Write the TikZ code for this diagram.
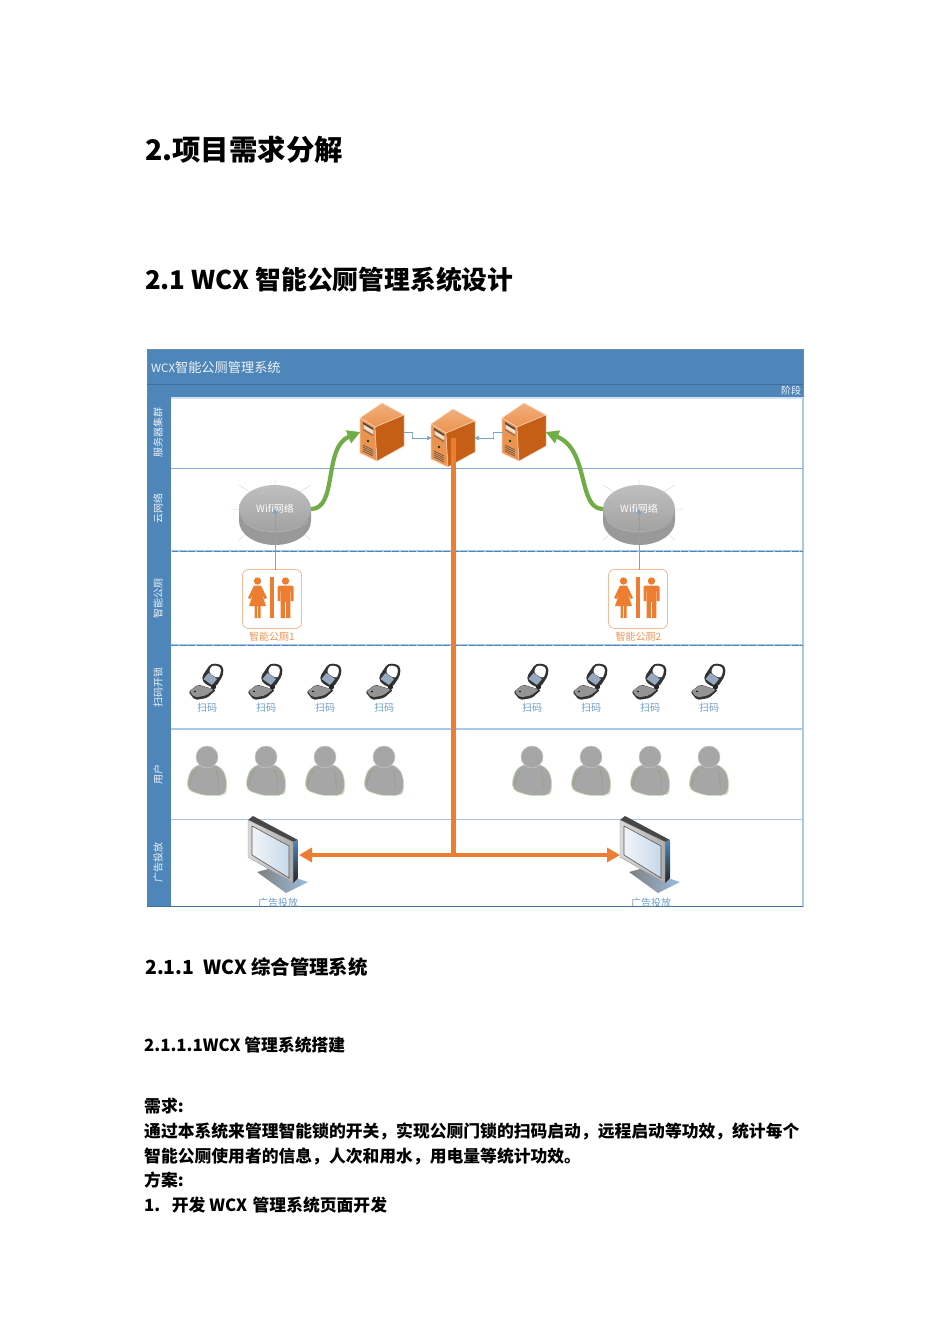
\documentclass[tikz,border=0pt]{standalone}
\usepackage{fontspec}
\setmainfont{Noto Sans CJK SC}
\usepackage{xcolor}
\usetikzlibrary{arrows.meta,shapes.geometric}
\definecolor{lanebl}{HTML}{4F86B9}
\definecolor{lanedk}{HTML}{3E6F9E}
\definecolor{rulebl}{HTML}{A9C7E6}
\definecolor{rowbl}{HTML}{86A8D8}
\definecolor{txtbl}{HTML}{6F9CC8}
\definecolor{wcor}{HTML}{ED7D31}
\definecolor{srvlt}{HTML}{EC9350}
\definecolor{srvdk}{HTML}{C55F17}
\definecolor{grnln}{HTML}{70AD47}
\newcommand{\fsz}[1]{\fontsize{#1}{#1}\selectfont}
\tikzset{
  server/.pic={
    \path[draw=white!65!srvlt,line width=.6pt,top color=srvlt!75!white,bottom color=srvlt]
      (0,-29)--(-22,-14)--(-7,-5)--(22,-17)--cycle;
    \fill[srvlt,draw=white!60!srvlt,line width=.6pt] (-22,-14)--(-7,-5)--(-5,29)--(-22,21)--cycle;
    \fill[srvdk,draw=white!60!srvlt,line width=.5pt] (-7,-5)--(22,-17)--(22,14)--(-5,29)--cycle;
    \fill[black!70] (-19,-10)--(-9,-4)--(-9,-2)--(-19,-8)--cycle;
    \fill[white!70!srvlt] (-18,-7)--(-9,-1.5)--(-9,2)--(-18,-3.5)--cycle;
    \fill[black!60] (-19,-3)--(-9,3)--(-9,4)--(-19,-2)--cycle;
    \fill[green!30!black] (-14,9) circle (1.3);
    \foreach \k in {0,2,4,6}{
      \draw[black!70,line width=.6pt] (-19,13+\k)--(-9,18+\k);
    }
  },
  wcfigs/.pic={
    \fill[wcor] (-1.7,-22) rectangle (1.7,19);
    % woman
    \fill[wcor] (-14.5,-18) circle (3.7);
    \fill[wcor] (-18,-13.5)--(-11,-13.5)--(-5,-1)--(-7.5,0)--(-10.5,-6)--(-6,7)--(-11.5,7)--(-11.5,19)--(-14,19)
      --(-14,7)--(-15,7)--(-15,19)--(-17.5,19)--(-17.5,7)--(-23,7)--(-18.5,-6)--(-21.5,0)--(-24,-1)--cycle;
    % man
    \fill[wcor] (13.5,-18) circle (3.7);
    \fill[wcor] (7,-13.5)--(20,-13.5)--(21.5,-12)--(21.5,2)--(18.8,2)--(18.8,-8)--(18.3,-8)--(18.3,19)--(14.2,19)--(14.2,3)
      --(12.8,3)--(12.8,19)--(8.7,19)--(8.7,-8)--(8.2,-8)--(8.2,2)--(5.5,2)--(5.5,-12)--cycle;
  },
  phone/.pic={
    \fill[black!80,rounded corners=2pt] (-18.5,10)--(-9,2.5)--(9,8)--(0,16)--(-12,18)--cycle;
    \fill[black!42,rounded corners=2pt] (-17.5,9.5)--(-9,3)--(7,7.5)--(-1,13.5)--(-12,15.5)--cycle;
    \fill[black!80,rounded corners=4pt] (-6,-4)--(4,-19)--(16,-17)--(16.5,-7)--(8,6)--(-1,3)--cycle;
    \fill[white!45!lanebl!70!gray] (-3.5,-3)--(1.5,-9)--(10,-3)--(5,3)--cycle;
    \fill[white,rounded corners=3pt] (1.5,-9.5)--(5,-17)--(14,-15)--(13.5,-7)--(10.5,-3.5)--cycle;
    \fill[black!85] (6.5,5) circle (2.6);
    \fill[black] (-12,9.5) circle (.8);
  },
  person/.pic={
    \fill[black!35,draw=grnln!40,line width=.6pt,rounded corners=5pt]
      (-6,-6)--(-15,-2)--(-19.5,9)--(-19.5,20)--(-3,25.5)--(17,25.5)--(19.5,20)--(19.5,8)--(15,-2)--(6,-6)--cycle;
    \fill[black!35,draw=black!22,line width=.5pt] (0,-13) circle (11);
    \draw[grnln!70!black!70,line width=.4pt] (-17,15) to[bend left=15] (-11,0);
    \draw[grnln!70!black!70,line width=.4pt] (11,19) to[bend right=10] (9,0);
  },
  monitor/.pic={
    \path[left color=black!50,right color=rulebl!85!lanebl] (-21,17)--(-10,14)--(30,27)--(8,38)--cycle;
    \fill[black!72] (-30,-35)--(-25,-39)--(20,-15)--(15,-13)--cycle;
    \path[top color=lanebl,bottom color=black!85] (15,-13)--(20,-15)--(20,23)--(15,28)--cycle;
    \path[draw=black!40,line width=.4pt,left color=black!15,right color=black!32]
      (-30,-35)--(15,-13)--(15,28)--(-30,2)--cycle;
    \path[draw=black!65,line width=.6pt,left color=white!92!lanebl,right color=white!68!lanebl]
      (-26,-29)--(11,-9)--(11,23)--(-26,0)--cycle;
  },
}
\begin{document}
\begin{tikzpicture}[x=1pt,y=-1pt,
  iconbox/.style 2 args={inner sep=0pt,outer sep=0pt,minimum width=#1,minimum height=#2},
  wifitop/.style={ellipse,inner sep=0pt,outer sep=0pt,minimum width=72pt,minimum height=48pt,
    top color=black!25,bottom color=black!37,
    text=white,font=\fsz{10}},
  wcbox/.style={iconbox={59pt}{59pt},rounded corners=6pt,draw=wcor!80,line width=.5pt,fill=white},
  wclab/.style={text=wcor!85,font=\fsz{10},inner sep=0pt},
  blab/.style={text=txtbl,font=\fsz{10},inner sep=0pt},
  lanelab/.style={rotate=90,text=white!90!lanebl,font=\fsz{10},inner sep=0pt},
  htext/.style={anchor=west,inner sep=0pt,font=\fsz{#1}\bfseries},
  rowline/.style={rowbl,line width=.9pt},
  rowdash/.style={lanebl,line width=.9pt,dash pattern=on 7pt off 1.5pt},
  thinarr/.style={-{Triangle[length=4.5pt,width=4.5pt]},lanebl!75!white,line width=.6pt},
  grnarr/.style={-{Triangle[length=13pt,width=13pt]},grnln,line width=4.2pt},
  orarr/.style={wcor,line width=4.6pt}]
  \useasboundingbox (0,0) rectangle (950,1344);

  % page headings
  \node[htext=28.4] (title) at (145,150) {2.项目需求分解};
  \node[htext=25.8] (sect) at (145,280) {2.1 WCX 智能公厕管理系统设计};
  \node[htext=19.4] (subsect) at (145,967) {2.1.1\ \ WCX 综合管理系统};
  \node[htext=16.8] (subsub) at (144,1045) {2.1.1.1WCX 管理系统搭建};
  \node[htext=16.8] (bodya) at (144,1106) {需求:};
  \node[htext=16.8] (bodyb) at (144,1131) {通过本系统来管理智能锁的开关，实现公厕门锁的扫码启动，远程启动等功效，统计每个};
  \node[htext=16.8] (bodyc) at (144,1156) {智能公厕使用者的信息，人次和用水，用电量等统计功效。};
  \node[htext=16.8] (bodyd) at (144,1180) {方案:};
  \node[htext=16.8] (bodye) at (144,1205) {1.\ \ \ 开发 WCX\,\,管理系统页面开发};

  % swimlanes
  \fill[lanebl,draw=lanedk!80,line width=.5pt] (147,349) rectangle (803,397);
  \fill[lanebl] (147,397) rectangle (171,907);
  \draw[lanedk,line width=.5pt] (147,384)--(803,384);
  \draw[rulebl,line width=1.2pt] (803,397)--(803,907);
  \draw[rulebl!50,line width=1.5pt] (171,398)--(803,398);
  \draw[rowline] (171,468)--(803,468);
  \draw[rulebl,line width=1.2pt] (171,551)--(803,551);
  \draw[rulebl,line width=1.2pt] (171,645)--(803,645);
  \draw[rowdash] (171,551)--(803,551);
  \draw[rowdash] (171,645)--(803,645);
  \draw[rulebl,line width=1.6pt] (171,729)--(803,729);
  \draw[rulebl,line width=1pt] (171,819)--(803,819);
  \draw[lanedk,line width=.8pt] (147,906.5)--(803,906.5);
  \draw[white,line width=.8pt,dash pattern=on 3pt off 3pt] (171,551)--(171,645);
  \node[anchor=west,inner sep=0pt,text=white!90!lanebl,font=\fsz{13.2}] (lanetitle) at (151,367)
    {{\fsz{11.5}WCX}智能公厕管理系统};
  \node[inner sep=0pt,text=white!90!lanebl,font=\fsz{10}] (stage) at (791,390.5) {阶段};
  \foreach \i/\y/\lab in {1/432/服务器集群,2/508/云网络,3/598/智能公厕,4/687/扫码开锁,5/774/用户,6/862/广告投放}{
    \node[lanelab] (lane\i) at (158,\y) {\lab};
  }

  % servers
  \node[iconbox={43pt}{59pt}] (srva) at (382,432) {};
  \node[iconbox={43pt}{59pt}] (srvb) at (453,438) {};
  \node[iconbox={43pt}{59pt}] (srvc) at (524,432) {};
  \foreach \n in {srva,srvb,srvc}{
    \pic at (\n) {server};
  }
  \coordinate (midab) at (412,435);
  \coordinate (midcb) at (493,435);
  \draw[thinarr] (srva.east) -| (midab) |- (srvb.west);
  \draw[thinarr] (srvc.west) -| (midcb) |- (srvb.east);

  % wifi
  \fill[black!40] (239,509)--(239,521) arc[start angle=180,end angle=0,x radius=36,y radius=24]--(311,509)--cycle;
  \fill[black!40] (603,509)--(603,521) arc[start angle=180,end angle=0,x radius=36,y radius=24]--(675,509)--cycle;
  \foreach \c in {275,639}{
    \draw[black!15,line width=.5pt] (\c-36,509)--(\c-44,509) (\c+36,509)--(\c+44,509)
      (\c,485)--(\c,479) (\c-25,492)--(\c-36,485) (\c+25,492)--(\c+36,485)
      (\c-30,535)--(\c-36,540) (\c+30,535)--(\c+36,540);
  }
  \node[wifitop] (wifia) at (275,509) {Wifi网络};
  \node[wifitop] (wifib) at (639,509) {Wifi网络};
  \draw[white!70!black,line width=.5pt] (243,520) arc[start angle=170,end angle=10,x radius=33,y radius=14];
  \draw[white!70!black,line width=.5pt] (607,520) arc[start angle=170,end angle=10,x radius=33,y radius=14];

  % toilets
  \node[wcbox] (wca) at (272,599) {};
  \node[wcbox] (wcb) at (638,599) {};
  \pic at (wca) {wcfigs};
  \pic at (wcb) {wcfigs};
  \node[wclab] (wcla) at (272,637) {智能公厕1};
  \node[wclab] (wclb) at (638.5,637) {智能公厕2};
  \draw[thinarr] (wifia.center |- wca.north) -- (wifia.center);
  \draw[thinarr] (wifib.center |- wcb.north) -- (wifib.center);

  % green links
  \draw[grnarr] (wifia.east) .. controls (338,509) and (323,447) .. (srva.west);
  \draw[grnarr] (wifib.west) .. controls (577,509) and (590,450) .. (srvc.east);

  % scan and users
  \foreach \x in {207,266,325,384,532,591,650,709}{
    \pic at (\x,682) {phone};
    \node[blab] (scan\x) at (\x,708) {扫码};
    \pic at (\x,770) {person};
  }

  % monitors
  \node[iconbox={42pt}{60pt}] (mona) at (278,855) {};
  \node[iconbox={60pt}{60pt}] (monb) at (650,855) {};
  \pic at (mona) {monitor};
  \pic at (monb) {monitor};
  \node[blab] (adla) at (278,903) {广告投放};
  \node[blab] (adlb) at (651,903) {广告投放};

  % orange bus
  \coordinate (hub) at (453,855);
  \draw[orarr,line width=5pt] (srvb.center) -- (hub);
  \draw[orarr,{Triangle[length=13pt,width=14pt]}-{Triangle[length=13pt,width=14pt]}] (mona.east) -- (monb.west);
\end{tikzpicture}
\end{document}
